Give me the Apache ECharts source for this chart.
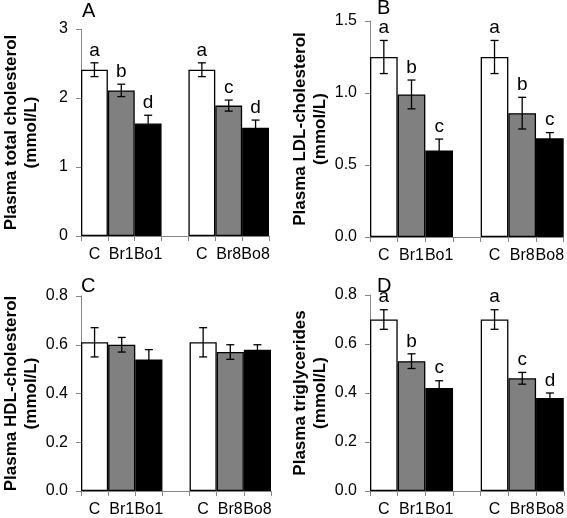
<!DOCTYPE html>
<html>
<head>
<meta charset="utf-8">
<script src="https://cdn.jsdelivr.net/npm/echarts@6/dist/echarts.min.js"></script>
<style>
html,body{margin:0;padding:0;background:#fff;}
#chart{width:567px;height:518px;}
</style>
</head>
<body>
<div id="chart"></div>
<script>
// ---- data ----
const categories = ['C', 'Br1', 'Bo1', '', 'C', 'Br8', 'Bo8'];
const barColors = ['#ffffff', '#808080', '#000000', '#ffffff', '#ffffff', '#808080', '#000000'];

const panelTitles = ['A', 'B', 'C', 'D'];
const yNames = [
  'Plasma total cholesterol\n(mmol/L)',
  'Plasma LDL-cholesterol\n(mmol/L)',
  'Plasma HDL-cholesterol\n(mmol/L)',
  'Plasma triglycerides\n(mmol/L)'
];

const totalMean = [2.41, 2.11, 1.63, null, 2.41, 1.89, 1.57];
const totalErr  = [0.10, 0.09, 0.12, null, 0.10, 0.08, 0.11];
const totalSig  = ['a', 'b', 'd', '', 'a', 'c', 'd'];

const ldlMean = [1.25, 0.99, 0.60, null, 1.25, 0.86, 0.685];
const ldlErr  = [0.115, 0.10, 0.08, null, 0.115, 0.11, 0.04];
const ldlSig  = ['a', 'b', 'c', '', 'a', 'b', 'c'];

const hdlMean = [0.61, 0.60, 0.54, null, 0.61, 0.57, 0.58];
const hdlErr  = [0.06, 0.03, 0.04, null, 0.06, 0.03, 0.02];
const hdlSig  = ['', '', '', '', '', '', ''];

const tgMean = [0.70, 0.53, 0.42, null, 0.70, 0.46, 0.38];
const tgErr  = [0.04, 0.03, 0.03, null, 0.04, 0.024, 0.02];
const tgSig  = ['a', 'b', 'c', '', 'a', 'c', 'd'];

const yMax = [3, 1.5, 0.8, 0.8];
const yInterval = [1, 0.5, 0.2, 0.2];
const yDecimals = [0, 1, 1, 1];

const means = [totalMean, ldlMean, hdlMean, tgMean];
const errs = [totalErr, ldlErr, hdlErr, tgErr];
const sigs = [totalSig, ldlSig, hdlSig, tgSig];

// ---- layout ----
const grids = [
  {left: 75, top: 29, width: 194, height: 207},
  {left: 370, top: 21, width: 195, height: 216},
  {left: 76, top: 296, width: 195, height: 199},
  {left: 370, top: 295, width: 196, height: 200}
];
const titlePos = [
  {left: 82, top: 1},
  {left: 377, top: -2},
  {left: 81, top: 276},
  {left: 377, top: 276}
];

const FONT = 'Arial, "Liberation Sans", sans-serif';
const axisColor = '#868686';

const option = {
  animation: false,
  backgroundColor: '#ffffff',
  title: panelTitles.map((t, i) => ({
    text: t, left: titlePos[i].left, top: titlePos[i].top, padding: 0,
    textStyle: {fontFamily: FONT, fontSize: 20, fontWeight: 'normal', color: '#000'}
  })),
  grid: grids.map(g => Object.assign({containLabel: false}, g)),
  xAxis: grids.map((g, i) => ({
    type: 'category', gridIndex: i, data: categories,
    axisLine: {lineStyle: {color: axisColor, width: 1}},
    axisTick: {show: true, length: 5, lineStyle: {color: axisColor}},
    axisLabel: {fontFamily: FONT, fontSize: 16, color: '#000', margin: 11, interval: 0}
  })),
  yAxis: grids.map((g, i) => ({
    type: 'value', gridIndex: i, min: 0, max: yMax[i], interval: yInterval[i],
    name: yNames[i], nameLocation: 'middle', nameGap: 40,
    nameTextStyle: {fontFamily: FONT, fontSize: 17, fontWeight: 'bold', color: '#000', lineHeight: 20},
    axisLine: {show: true, lineStyle: {color: axisColor, width: 1}},
    axisTick: {show: true, length: 5, lineStyle: {color: axisColor}},
    splitLine: {show: false},
    axisLabel: {fontFamily: FONT, fontSize: 16, color: '#000', margin: 13,
      formatter: v => v.toFixed(yDecimals[i])}
  })),
  series: []
};

means.forEach((m, i) => {
  option.series.push({
    type: 'bar', xAxisIndex: i, yAxisIndex: i, barCategoryGap: '0%',
    data: m.map((v, k) => v === null ? '-' : {
      value: v,
      itemStyle: {color: barColors[k], borderColor: '#000', borderWidth: 1.3}
    })
  });
  const e = errs[i], s = sigs[i];
  option.series.push({
    type: 'custom', xAxisIndex: i, yAxisIndex: i, z: 10,
    data: m.map((v, k) => v === null ? [k, '-'] : [k, v]),
    encode: {x: 0, y: 1},
    renderItem: function (params, api) {
      const k = params.dataIndex;
      const v = m[k];
      if (v === null) return null;
      const top = api.coord([k, v + e[k]]);
      const bot = api.coord([k, v - e[k]]);
      const cap = 4;
      const st = {stroke: '#000', lineWidth: 1.3};
      const children = [
        {type: 'line', shape: {x1: top[0], y1: top[1], x2: bot[0], y2: bot[1]}, style: st},
        {type: 'line', shape: {x1: top[0] - cap, y1: top[1], x2: top[0] + cap, y2: top[1]}, style: st},
        {type: 'line', shape: {x1: bot[0] - cap, y1: bot[1], x2: bot[0] + cap, y2: bot[1]}, style: st}
      ];
      if (s[k]) {
        children.push({type: 'text', x: top[0], y: top[1] - 3,
          style: {text: s[k], fill: '#000', font: '19px ' + FONT, align: 'center', verticalAlign: 'bottom'}});
      }
      return {type: 'group', children: children};
    }
  });
});

const chart = echarts.init(document.getElementById('chart'), null, {renderer: 'canvas'});
chart.setOption(option);
</script>
</body>
</html>
